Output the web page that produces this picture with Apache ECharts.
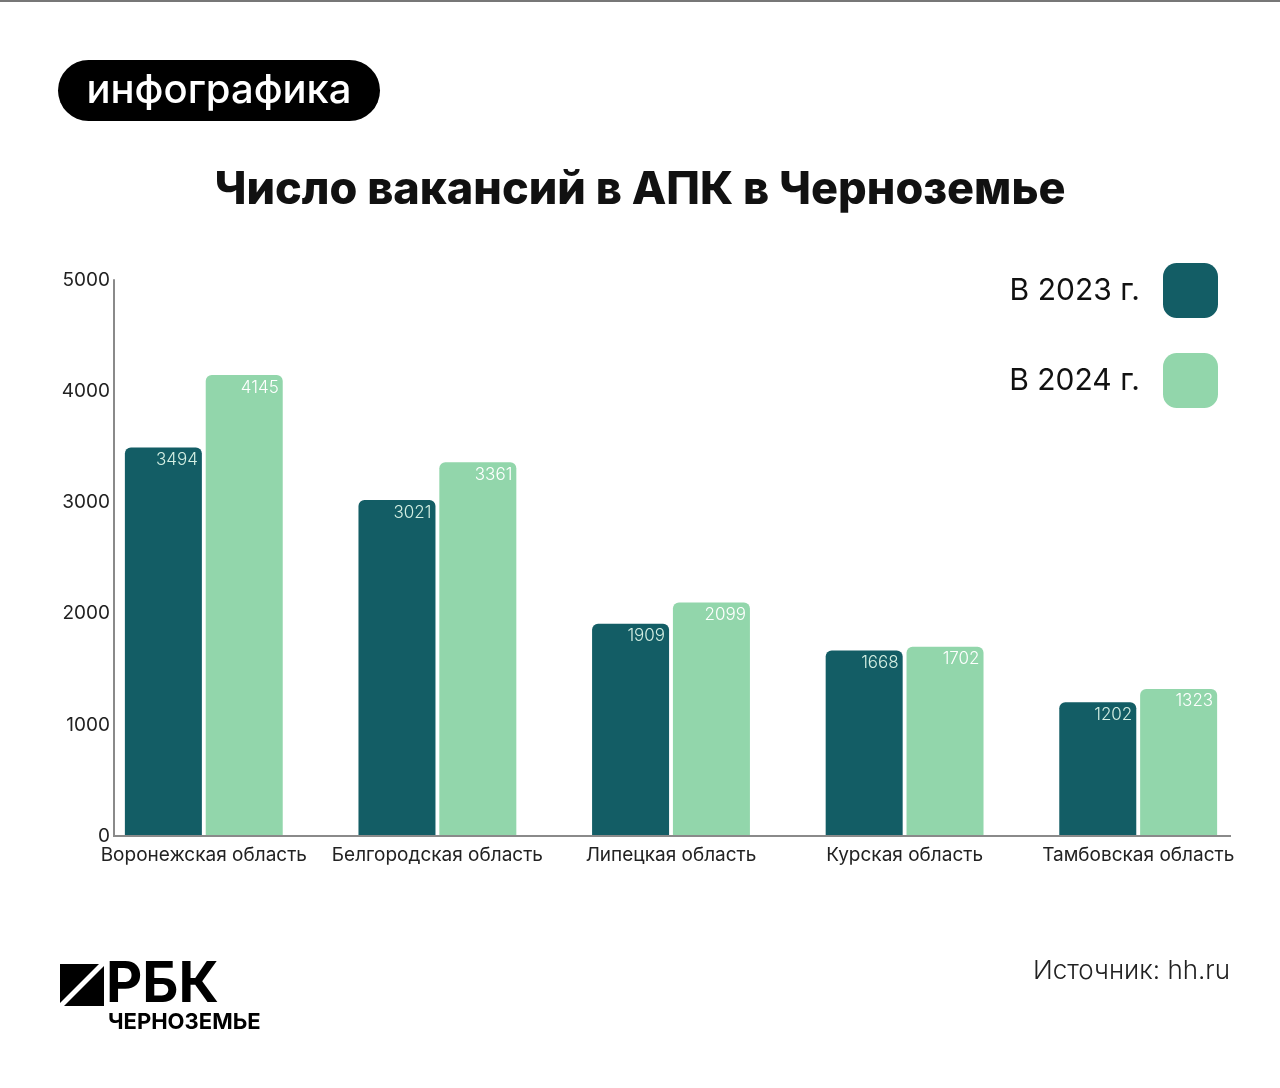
<!DOCTYPE html>
<html>
<head>
<meta charset="utf-8">
<script src="https://cdn.jsdelivr.net/npm/echarts@6/dist/echarts.min.js"></script>
<style>
html,body{margin:0;padding:0;background:#fff;}
#chart{width:1280px;height:1088px;}
</style>
</head>
<body>
<div id="chart"></div>
<script>
const categories = ['Воронежская область', 'Белгородская область', 'Липецкая область', 'Курская область', 'Тамбовская область'];
const values2023 = [3494, 3021, 1909, 1668, 1202];
const values2024 = [4145, 3361, 2099, 1702, 1323];
const seriesNames = ['В 2023 г.', 'В 2024 г.'];
const yTicks = { min: 0, max: 5000, interval: 1000 };

const DARK = '#135d65';
const LIGHT = '#92d6ab';
const FONT = 'Inter, "Noto Sans", sans-serif';

const chart = echarts.init(document.getElementById('chart'));
chart.setOption({
  backgroundColor: '#ffffff',
  animation: false,
  title: {
    text: 'Число вакансий в АПК в Черноземье',
    left: 'center',
    top: 163,
    textStyle: { fontFamily: FONT, fontSize: 45, fontWeight: 800, color: '#111' }
  },
  legend: {
    orient: 'vertical',
    right: 57,
    top: 258,
    align: 'right',
    itemWidth: 55,
    itemHeight: 55,
    itemGap: 35,
    icon: 'roundRect',
    data: seriesNames,
    textStyle: { fontFamily: FONT, fontSize: 30, color: '#111', padding: [0, 18, 0, 0] }
  },
  grid: { left: 87, right: 25, top: 280, bottom: 252 },
  xAxis: {
    type: 'category',
    data: categories,
    axisLine: { show: false },
    axisTick: { show: false },
    axisLabel: { interval: 0, fontFamily: FONT, fontSize: 19, color: '#222', margin: 10 }
  },
  yAxis: {
    type: 'value',
    min: yTicks.min,
    max: yTicks.max,
    interval: yTicks.interval,
    offset: -27,
    splitLine: { show: false },
    axisTick: { show: false },
    axisLine: { show: true, lineStyle: { color: '#8a8a8a', width: 2 } },
    axisLabel: { fontFamily: FONT, fontSize: 19, color: '#222', margin: 4, formatter: v => String(v) }
  },
  series: [
    {
      name: seriesNames[0],
      type: 'bar',
      data: values2023,
      barWidth: 77,
      barGap: '5%',
      itemStyle: { color: DARK, borderRadius: [6, 6, 0, 0] },
      label: { show: true, position: 'insideTopRight', distance: 4, fontFamily: FONT, fontSize: 17, fontWeight: 300, color: '#d4efe3' }
    },
    {
      name: seriesNames[1],
      type: 'bar',
      data: values2024,
      barWidth: 77,
      itemStyle: { color: LIGHT, borderRadius: [6, 6, 0, 0] },
      label: { show: true, position: 'insideTopRight', distance: 4, fontFamily: FONT, fontSize: 17, fontWeight: 300, color: '#ffffff' }
    }
  ],
  graphic: [
    { type: 'rect', left: 0, top: 0, shape: { width: 1280, height: 2 }, style: { fill: '#777' } },
    { type: 'line', shape: { x1: 113, y1: 836, x2: 1231, y2: 836 }, style: { stroke: '#8a8a8a', lineWidth: 2 }, z: 10 },
    { type: 'rect', shape: { x: 58, y: 60, width: 322, height: 61, r: 30.5 }, style: { fill: '#000' } },
    { type: 'text', x: 219, y: 91, style: { text: 'инфографика', fill: '#fff', font: '500 40px ' + FONT, align: 'center', verticalAlign: 'middle' } },
    { type: 'text', x: 1230, y: 971, style: { text: 'Источник: hh.ru', fill: '#222', font: '300 26px ' + FONT, align: 'right', verticalAlign: 'middle' } },
    { type: 'polygon', shape: { points: [[60, 964], [99, 964], [60, 1003]] }, style: { fill: '#000' } },
    { type: 'polygon', shape: { points: [[104, 966], [104, 1006], [64, 1006]] }, style: { fill: '#000' } },
    { type: 'text', x: 106, y: 985, style: { text: 'РБК', fill: '#000', font: '700 56px ' + FONT, align: 'left', verticalAlign: 'middle' } },
    { type: 'text', x: 108, y: 1022, style: { text: 'ЧЕРНОЗЕМЬЕ', fill: '#000', font: '700 22px ' + FONT, align: 'left', verticalAlign: 'middle' } }
  ]
});
</script>
</body>
</html>
